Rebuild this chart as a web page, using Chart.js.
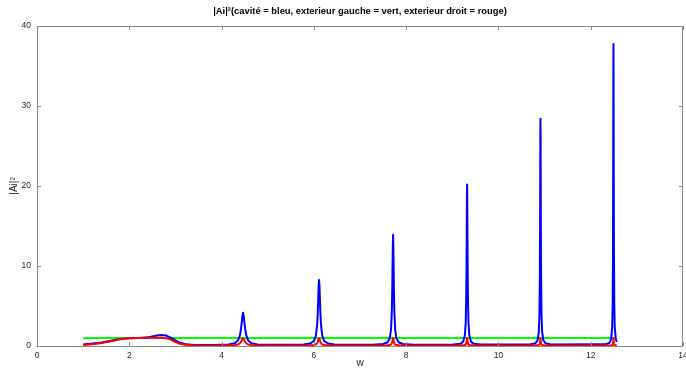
<!DOCTYPE html>
<html>
<head>
<meta charset="utf-8">
<script src="https://cdn.jsdelivr.net/npm/chart.js@4.4.0/dist/chart.umd.min.js"></script>
<style>
html,body{margin:0;padding:0;background:#fff;}
canvas{display:block;}
</style>
</head>
<body>
<canvas id="c" width="686" height="370"></canvas>
<script>
// ---- data ----
const wValues = [
1.0,1.2,1.4,1.6,1.8,2.0,2.2,2.4,2.5,2.6,2.7,2.8,2.9,3.0,3.1,3.2,3.4,3.6,
3.926,4.151,4.286,4.354,4.399,4.421,4.435,4.453,4.466,4.479,4.497,4.511,4.534,4.578,4.646,4.781,5.006,
5.413,5.777,5.917,6.001,6.043,6.071,6.085,6.093,6.105,6.113,6.121,6.133,6.141,6.155,6.183,6.225,6.309,6.449,6.813,
7.267,7.501,7.591,7.645,7.672,7.690,7.699,7.704,7.712,7.717,7.722,7.730,7.735,7.744,7.762,7.789,7.843,7.933,8.167,
9.021,9.177,9.237,9.273,9.291,9.303,9.309,9.313,9.317,9.321,9.325,9.329,9.333,9.339,9.351,9.369,9.405,9.465,9.621,
10.686,10.803,10.848,10.875,10.889,10.898,10.902,10.905,10.908,10.911,10.914,10.917,10.920,10.924,10.933,10.947,10.974,11.019,11.136,
12.318,12.409,12.444,12.465,12.476,12.483,12.486,12.488,12.491,12.493,12.495,12.498,12.500,12.504,12.511,12.521,12.542,12.566];

const cavityBlue = [
0.2,0.3,0.45,0.65,0.87,0.98,1.0,1.08,1.2,1.32,1.37,1.3,1.05,0.7,0.42,0.25,0.14,0.13,
0.15,0.2,0.36,0.68,1.36,2.14,2.83,3.82,4.16,3.82,2.83,2.14,1.36,0.68,0.36,0.2,0.15,
0.15,0.2,0.3,0.62,1.26,2.63,4.19,5.58,7.57,8.25,7.57,5.58,4.19,2.63,1.26,0.62,0.3,0.2,0.15,
0.17,0.25,0.43,0.96,2.05,4.39,7.03,9.38,12.75,13.9,12.75,9.38,7.03,4.39,2.05,0.96,0.43,0.25,0.17,
0.18,0.29,0.55,1.33,2.92,6.33,10.18,13.6,18.54,20.2,18.54,13.6,10.18,6.33,2.92,1.33,0.55,0.29,0.18,
0.2,0.35,0.72,1.81,4.05,8.85,14.25,19.1,26.05,28.4,26.05,19.1,14.25,8.85,4.05,1.81,0.72,0.35,0.2,
0.21,0.41,0.9,2.36,5.34,11.73,18.95,25.35,34.65,37.75,34.65,25.35,18.95,11.73,5.34,2.36,0.9,0.5];

const rightRed = [
0.12,0.22,0.38,0.6,0.84,0.97,1.0,1.0,1.02,1.03,1.03,0.97,0.8,0.5,0.28,0.16,0.08,0.06,
0.066,0.078,0.114,0.187,0.343,0.52,0.677,0.904,0.98,0.904,0.677,0.52,0.343,0.187,0.114,0.078,0.066,
0.061,0.066,0.079,0.115,0.188,0.346,0.525,0.684,0.913,0.99,0.913,0.684,0.525,0.346,0.188,0.115,0.079,0.066,0.061,
0.061,0.066,0.079,0.115,0.188,0.346,0.525,0.684,0.913,0.99,0.913,0.684,0.525,0.346,0.188,0.115,0.079,0.066,0.061,
0.061,0.066,0.079,0.115,0.188,0.346,0.525,0.684,0.913,0.99,0.913,0.684,0.525,0.346,0.188,0.115,0.079,0.066,0.061,
0.061,0.066,0.079,0.115,0.188,0.346,0.525,0.684,0.913,0.99,0.913,0.684,0.525,0.346,0.188,0.115,0.079,0.066,0.061,
0.061,0.066,0.079,0.115,0.188,0.346,0.525,0.684,0.913,0.99,0.913,0.684,0.525,0.346,0.188,0.115,0.079,0.07];

const leftGreenW = [1.0, 12.49];
const leftGreen = [1, 1];

const xTicks = [0,2,4,6,8,10,12,14];
const yTicks = [0,10,20,30,40];
const titleText = '|Ai|\u00B2(cavit\u00E9 = bleu, exterieur gauche = vert, exterieur droit = rouge)';
const xLabel = 'w';
const yLabel = '|Ai|\u00B2';

if (wValues.length !== cavityBlue.length || wValues.length !== rightRed.length) {
  console.error('length mismatch', wValues.length, cavityBlue.length, rightRed.length);
}

// ---- build chart ----
const toPts = (xs, ys) => xs.map((x, i) => ({x: x, y: ys[i]}));
const FONT = 'Liberation Sans, Arial, Helvetica, sans-serif';
const AXIS = '#8a8a8a';
const TXT = '#262626';

const frameTicks = {
  id: 'frameTicks',
  afterDraw(chart) {
    const {ctx, chartArea: a, scales: {x, y}} = chart;
    ctx.save();
    ctx.strokeStyle = AXIS;
    ctx.lineWidth = 1;
    ctx.beginPath();
    ctx.rect(Math.round(a.left) + 0.5, Math.round(a.top) + 0.5,
             Math.round(a.right - a.left) - 1, Math.round(a.bottom - a.top));
    const L = 4;
    xTicks.forEach(v => {
      const px = Math.round(x.getPixelForValue(v)) + 0.5;
      ctx.moveTo(px, a.bottom); ctx.lineTo(px, a.bottom - L);
      ctx.moveTo(px, a.top); ctx.lineTo(px, a.top + L);
    });
    yTicks.forEach(v => {
      const py = Math.round(y.getPixelForValue(v)) + 0.5;
      ctx.moveTo(a.left, py); ctx.lineTo(a.left + L, py);
      ctx.moveTo(a.right, py); ctx.lineTo(a.right - L, py);
    });
    ctx.stroke();
    // title centred over the plot area
    ctx.fillStyle = '#000';
    ctx.font = 'bold 9.4px ' + FONT;
    ctx.textAlign = 'center';
    ctx.textBaseline = 'middle';
    ctx.fillText(titleText, (a.left + a.right) / 2, 11);
    ctx.restore();
  }
};

// a dash pattern with no gap draws a solid line, but keeps every point (no pixel-column merging)
const SOLID = [100000, 0];

new Chart(document.getElementById('c'), {
  type: 'line',
  data: {
    datasets: [
      {label: 'droit', data: toPts(wValues, rightRed), borderColor: '#ff0000', borderWidth: 2, borderDash: SOLID},
      {label: 'cavite', data: toPts(wValues, cavityBlue), borderColor: '#0000ff', borderWidth: 2, borderDash: SOLID},
      {label: 'gauche', data: toPts(leftGreenW, leftGreen), borderColor: '#00ff00', borderWidth: 2}
    ]
  },
  options: {
    responsive: false,
    animation: false,
    elements: {point: {radius: 0}, line: {tension: 0, borderJoinStyle: 'round', borderCapStyle: 'butt'}},
    layout: {padding: {left: 0, right: 3, top: 26, bottom: 0}},
    plugins: {
      legend: {display: false},
      tooltip: {enabled: false},
      title: {display: false}
    },
    scales: {
      x: {
        type: 'linear', min: 0, max: 14,
        afterBuildTicks: s => { s.ticks = xTicks.map(v => ({value: v})); },
        afterFit: s => { s.height = 24; s.paddingLeft = 0; s.paddingRight = 0; },
        grid: {display: false, drawTicks: false},
        border: {display: false},
        ticks: {color: TXT, font: {family: FONT, size: 8.5}, padding: 5, maxRotation: 0, autoSkip: false},
        title: {display: true, text: xLabel, color: TXT, font: {family: FONT, size: 10}, padding: {top: 0, bottom: 1}}
      },
      y: {
        type: 'linear', min: 0, max: 40,
        afterBuildTicks: s => { s.ticks = yTicks.map(v => ({value: v})); },
        afterFit: s => { s.width = 37; s.paddingTop = 0; s.paddingBottom = 0; },
        grid: {display: false, drawTicks: false},
        border: {display: false},
        ticks: {color: TXT, font: {family: FONT, size: 8.5}, padding: 6, autoSkip: false},
        title: {display: true, text: yLabel, color: TXT, font: {family: FONT, size: 10}, padding: {top: 8, bottom: 0}}
      }
    }
  },
  plugins: [frameTicks]
});
</script>
</body>
</html>
